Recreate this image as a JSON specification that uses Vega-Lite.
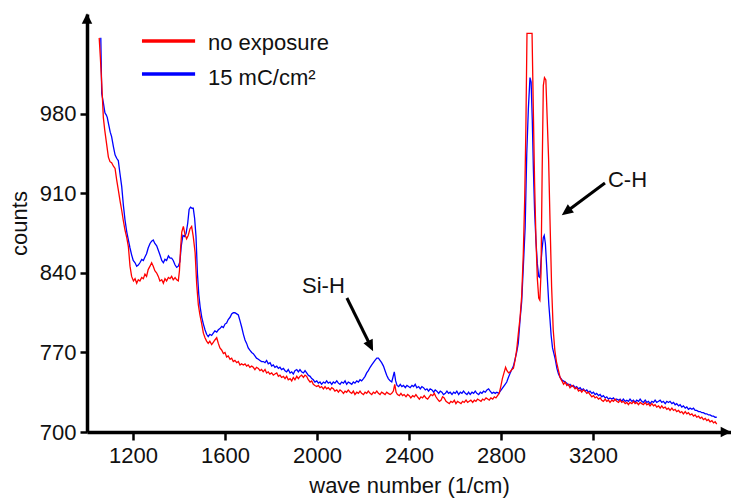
{
  "$schema": "https://vega.github.io/schema/vega-lite/v6.json",
  "autosize": {"type": "none"},
  "padding": {"left": 87, "top": 14, "right": 0, "bottom": 68},
  "width": 644,
  "height": 418,
  "config": {
    "view": {"stroke": null},
    "font": "Liberation Sans",
    "axis": {
      "grid": false,
      "domainColor": "#000000",
      "domainWidth": 3.5,
      "tickColor": "#000000",
      "tickWidth": 2.5,
      "labelFontSize": 22,
      "labelColor": "#111111",
      "labelFont": "Liberation Sans",
      "titleFont": "Liberation Sans",
      "titleFontSize": 22,
      "titleFontWeight": "normal",
      "titleColor": "#111111"
    }
  },
  "datasets": {
    "noexp": [
      {"w":1053,"c":1047},{"w":1058,"c":1030},{"w":1064,"c":1007},{"w":1071,"c":977},{"w":1077,"c":966},{"w":1083,"c":957},{"w":1093,"c":942},{"w":1100,"c":938},{"w":1107,"c":937},{"w":1115,"c":934},{"w":1122,"c":932},{"w":1129,"c":922},{"w":1137,"c":912},{"w":1144,"c":903},{"w":1151,"c":895},{"w":1158,"c":886},{"w":1165,"c":878},{"w":1173,"c":871},{"w":1180,"c":863},{"w":1187,"c":846},{"w":1194,"c":837},{"w":1202,"c":833},{"w":1209,"c":835},{"w":1216,"c":831},{"w":1223,"c":834},{"w":1230,"c":833},{"w":1238,"c":836},{"w":1245,"c":835},{"w":1252,"c":839},{"w":1259,"c":837},{"w":1266,"c":843},{"w":1274,"c":846},{"w":1281,"c":849},{"w":1288,"c":846},{"w":1295,"c":842},{"w":1303,"c":840},{"w":1310,"c":837},{"w":1317,"c":833},{"w":1325,"c":834},{"w":1332,"c":831},{"w":1339,"c":835},{"w":1346,"c":833},{"w":1354,"c":836},{"w":1361,"c":835},{"w":1368,"c":837},{"w":1375,"c":834},{"w":1383,"c":836},{"w":1390,"c":834},{"w":1397,"c":833},{"w":1402,"c":842},{"w":1407,"c":862},{"w":1412,"c":876},{"w":1419,"c":881},{"w":1426,"c":874},{"w":1433,"c":870},{"w":1440,"c":873},{"w":1448,"c":879},{"w":1455,"c":881},{"w":1462,"c":872},{"w":1470,"c":858},{"w":1477,"c":830},{"w":1484,"c":812},{"w":1491,"c":803},{"w":1499,"c":795},{"w":1506,"c":787},{"w":1513,"c":783},{"w":1520,"c":780},{"w":1527,"c":778},{"w":1534,"c":780},{"w":1542,"c":777},{"w":1549,"c":779},{"w":1556,"c":781},{"w":1564,"c":783},{"w":1571,"c":778},{"w":1578,"c":774},{"w":1586,"c":772},{"w":1593,"c":769},{"w":1600,"c":770},{"w":1607,"c":766},{"w":1614,"c":767},{"w":1622,"c":764},{"w":1629,"c":765},{"w":1636,"c":762},{"w":1643,"c":763},{"w":1651,"c":761},{"w":1658,"c":762},{"w":1665,"c":759},{"w":1672,"c":760},{"w":1680,"c":759},{"w":1687,"c":760},{"w":1694,"c":758},{"w":1701,"c":759},{"w":1708,"c":757},{"w":1716,"c":758},{"w":1723,"c":757},{"w":1730,"c":755},{"w":1737,"c":757},{"w":1745,"c":756},{"w":1752,"c":754},{"w":1759,"c":755},{"w":1766,"c":753},{"w":1774,"c":755},{"w":1781,"c":752},{"w":1788,"c":753},{"w":1795,"c":751},{"w":1803,"c":752},{"w":1810,"c":750},{"w":1817,"c":751},{"w":1825,"c":752},{"w":1832,"c":749},{"w":1839,"c":750},{"w":1846,"c":748},{"w":1854,"c":749},{"w":1861,"c":747},{"w":1868,"c":749},{"w":1875,"c":746},{"w":1883,"c":747},{"w":1890,"c":745},{"w":1897,"c":748},{"w":1904,"c":746},{"w":1912,"c":749},{"w":1919,"c":747},{"w":1926,"c":749},{"w":1933,"c":750},{"w":1941,"c":748},{"w":1948,"c":750},{"w":1955,"c":749},{"w":1962,"c":746},{"w":1970,"c":744},{"w":1977,"c":745},{"w":1984,"c":742},{"w":1991,"c":741},{"w":1999,"c":740},{"w":2006,"c":741},{"w":2013,"c":739},{"w":2020,"c":740},{"w":2028,"c":738},{"w":2035,"c":740},{"w":2042,"c":738},{"w":2049,"c":739},{"w":2057,"c":737},{"w":2064,"c":739},{"w":2071,"c":738},{"w":2078,"c":736},{"w":2086,"c":737},{"w":2093,"c":735},{"w":2100,"c":737},{"w":2107,"c":736},{"w":2115,"c":734},{"w":2122,"c":736},{"w":2129,"c":735},{"w":2136,"c":737},{"w":2144,"c":735},{"w":2151,"c":734},{"w":2158,"c":736},{"w":2165,"c":733},{"w":2173,"c":735},{"w":2180,"c":734},{"w":2187,"c":736},{"w":2194,"c":734},{"w":2202,"c":733},{"w":2209,"c":735},{"w":2216,"c":734},{"w":2223,"c":736},{"w":2231,"c":734},{"w":2238,"c":733},{"w":2245,"c":735},{"w":2252,"c":734},{"w":2260,"c":736},{"w":2267,"c":734},{"w":2274,"c":733},{"w":2281,"c":735},{"w":2289,"c":734},{"w":2296,"c":733},{"w":2303,"c":735},{"w":2310,"c":734},{"w":2318,"c":733},{"w":2325,"c":734},{"w":2332,"c":736},{"w":2338,"c":742},{"w":2344,"c":735},{"w":2350,"c":733},{"w":2358,"c":732},{"w":2365,"c":734},{"w":2372,"c":732},{"w":2379,"c":733},{"w":2387,"c":731},{"w":2394,"c":733},{"w":2401,"c":732},{"w":2408,"c":730},{"w":2416,"c":732},{"w":2423,"c":731},{"w":2430,"c":733},{"w":2437,"c":731},{"w":2445,"c":729},{"w":2452,"c":731},{"w":2459,"c":730},{"w":2466,"c":732},{"w":2474,"c":730},{"w":2481,"c":729},{"w":2488,"c":731},{"w":2495,"c":733},{"w":2503,"c":732},{"w":2510,"c":734},{"w":2517,"c":731},{"w":2524,"c":729},{"w":2532,"c":727},{"w":2539,"c":728},{"w":2546,"c":731},{"w":2553,"c":730},{"w":2561,"c":727},{"w":2568,"c":726},{"w":2575,"c":725},{"w":2582,"c":727},{"w":2590,"c":726},{"w":2597,"c":728},{"w":2604,"c":725},{"w":2611,"c":727},{"w":2619,"c":726},{"w":2626,"c":725},{"w":2633,"c":727},{"w":2640,"c":726},{"w":2648,"c":728},{"w":2655,"c":726},{"w":2662,"c":727},{"w":2669,"c":728},{"w":2677,"c":726},{"w":2684,"c":728},{"w":2691,"c":727},{"w":2698,"c":729},{"w":2706,"c":728},{"w":2713,"c":727},{"w":2720,"c":729},{"w":2727,"c":728},{"w":2735,"c":730},{"w":2742,"c":729},{"w":2749,"c":728},{"w":2756,"c":730},{"w":2764,"c":729},{"w":2771,"c":731},{"w":2778,"c":730},{"w":2785,"c":732},{"w":2792,"c":734},{"w":2799,"c":740},{"w":2806,"c":747},{"w":2813,"c":752},{"w":2820,"c":757},{"w":2826,"c":754},{"w":2833,"c":752},{"w":2840,"c":753},{"w":2847,"c":755},{"w":2854,"c":756},{"w":2861,"c":763},{"w":2868,"c":772},{"w":2875,"c":786},{"w":2883,"c":801},{"w":2890,"c":820},{"w":2897,"c":857},{"w":2903,"c":905},{"w":2908,"c":965},{"w":2913,"c":1051},{"w":2935,"c":1051},{"w":2940,"c":990},{"w":2946,"c":920},{"w":2952,"c":870},{"w":2958,"c":835},{"w":2964,"c":818},{"w":2969,"c":816},{"w":2974,"c":840},{"w":2979,"c":930},{"w":2984,"c":1005},{"w":2989,"c":1012},{"w":2995,"c":1010},{"w":3001,"c":975},{"w":3007,"c":940},{"w":3013,"c":887},{"w":3020,"c":828},{"w":3027,"c":790},{"w":3034,"c":772},{"w":3041,"c":762},{"w":3049,"c":755},{"w":3057,"c":748},{"w":3065,"c":745},{"w":3072,"c":742},{"w":3079,"c":744},{"w":3086,"c":741},{"w":3093,"c":742},{"w":3100,"c":739},{"w":3108,"c":741},{"w":3115,"c":740},{"w":3122,"c":738},{"w":3129,"c":739},{"w":3137,"c":736},{"w":3144,"c":737},{"w":3151,"c":735},{"w":3158,"c":737},{"w":3166,"c":736},{"w":3173,"c":734},{"w":3180,"c":735},{"w":3187,"c":733},{"w":3195,"c":731},{"w":3202,"c":732},{"w":3209,"c":730},{"w":3216,"c":731},{"w":3224,"c":729},{"w":3231,"c":730},{"w":3238,"c":728},{"w":3245,"c":727},{"w":3253,"c":729},{"w":3260,"c":727},{"w":3267,"c":728},{"w":3274,"c":726},{"w":3282,"c":728},{"w":3289,"c":727},{"w":3296,"c":729},{"w":3303,"c":727},{"w":3311,"c":726},{"w":3318,"c":728},{"w":3325,"c":726},{"w":3332,"c":727},{"w":3340,"c":725},{"w":3347,"c":726},{"w":3354,"c":724},{"w":3361,"c":726},{"w":3369,"c":725},{"w":3376,"c":727},{"w":3383,"c":725},{"w":3390,"c":726},{"w":3398,"c":724},{"w":3405,"c":726},{"w":3412,"c":725},{"w":3419,"c":724},{"w":3427,"c":726},{"w":3434,"c":724},{"w":3441,"c":725},{"w":3448,"c":723},{"w":3456,"c":725},{"w":3463,"c":723},{"w":3470,"c":724},{"w":3477,"c":722},{"w":3485,"c":723},{"w":3492,"c":721},{"w":3499,"c":723},{"w":3506,"c":721},{"w":3514,"c":722},{"w":3521,"c":720},{"w":3528,"c":721},{"w":3535,"c":719},{"w":3543,"c":721},{"w":3550,"c":719},{"w":3557,"c":720},{"w":3564,"c":718},{"w":3572,"c":719},{"w":3579,"c":717},{"w":3586,"c":718},{"w":3593,"c":716},{"w":3601,"c":718},{"w":3608,"c":716},{"w":3615,"c":717},{"w":3622,"c":715},{"w":3630,"c":716},{"w":3637,"c":714},{"w":3644,"c":715},{"w":3651,"c":713},{"w":3659,"c":714},{"w":3666,"c":712},{"w":3673,"c":713},{"w":3680,"c":711},{"w":3688,"c":712},{"w":3695,"c":710},{"w":3702,"c":711},{"w":3709,"c":709},{"w":3717,"c":710},{"w":3724,"c":708},{"w":3731,"c":709},{"w":3738,"c":707}
    ],
    "exp15": [
      {"w":1060,"c":1047},{"w":1064,"c":998},{"w":1071,"c":990},{"w":1078,"c":981},{"w":1084,"c":979},{"w":1088,"c":977},{"w":1095,"c":970},{"w":1101,"c":964},{"w":1107,"c":960},{"w":1115,"c":951},{"w":1122,"c":944},{"w":1129,"c":941},{"w":1136,"c":939},{"w":1143,"c":928},{"w":1151,"c":916},{"w":1158,"c":900},{"w":1165,"c":887},{"w":1173,"c":876},{"w":1180,"c":869},{"w":1187,"c":862},{"w":1194,"c":856},{"w":1201,"c":851},{"w":1209,"c":849},{"w":1216,"c":846},{"w":1223,"c":847},{"w":1230,"c":849},{"w":1238,"c":852},{"w":1245,"c":851},{"w":1252,"c":854},{"w":1259,"c":857},{"w":1266,"c":862},{"w":1274,"c":866},{"w":1281,"c":868},{"w":1288,"c":869},{"w":1295,"c":866},{"w":1303,"c":864},{"w":1310,"c":860},{"w":1317,"c":856},{"w":1325,"c":851},{"w":1332,"c":849},{"w":1339,"c":852},{"w":1346,"c":851},{"w":1354,"c":855},{"w":1361,"c":853},{"w":1368,"c":853},{"w":1375,"c":851},{"w":1383,"c":847},{"w":1390,"c":845},{"w":1397,"c":846},{"w":1404,"c":850},{"w":1410,"c":864},{"w":1417,"c":873},{"w":1424,"c":872},{"w":1431,"c":875},{"w":1438,"c":884},{"w":1444,"c":896},{"w":1450,"c":898},{"w":1457,"c":897},{"w":1462,"c":897},{"w":1468,"c":888},{"w":1474,"c":872},{"w":1480,"c":840},{"w":1486,"c":821},{"w":1492,"c":810},{"w":1499,"c":801},{"w":1506,"c":795},{"w":1513,"c":790},{"w":1520,"c":786},{"w":1527,"c":784},{"w":1534,"c":786},{"w":1542,"c":785},{"w":1549,"c":787},{"w":1556,"c":789},{"w":1564,"c":788},{"w":1571,"c":790},{"w":1578,"c":791},{"w":1586,"c":793},{"w":1593,"c":792},{"w":1600,"c":795},{"w":1607,"c":796},{"w":1614,"c":799},{"w":1622,"c":801},{"w":1629,"c":804},{"w":1636,"c":805},{"w":1643,"c":805},{"w":1651,"c":804},{"w":1658,"c":803},{"w":1665,"c":798},{"w":1673,"c":792},{"w":1680,"c":786},{"w":1687,"c":781},{"w":1694,"c":778},{"w":1701,"c":774},{"w":1708,"c":772},{"w":1716,"c":770},{"w":1723,"c":769},{"w":1730,"c":767},{"w":1737,"c":765},{"w":1745,"c":764},{"w":1752,"c":763},{"w":1759,"c":762},{"w":1767,"c":762},{"w":1774,"c":761},{"w":1781,"c":763},{"w":1788,"c":760},{"w":1796,"c":761},{"w":1803,"c":758},{"w":1810,"c":759},{"w":1817,"c":757},{"w":1825,"c":758},{"w":1832,"c":756},{"w":1839,"c":757},{"w":1846,"c":755},{"w":1854,"c":756},{"w":1861,"c":754},{"w":1868,"c":753},{"w":1875,"c":755},{"w":1883,"c":752},{"w":1890,"c":753},{"w":1897,"c":751},{"w":1904,"c":754},{"w":1912,"c":755},{"w":1919,"c":753},{"w":1926,"c":755},{"w":1933,"c":753},{"w":1941,"c":752},{"w":1948,"c":754},{"w":1955,"c":752},{"w":1962,"c":750},{"w":1970,"c":749},{"w":1977,"c":747},{"w":1984,"c":746},{"w":1991,"c":744},{"w":1999,"c":745},{"w":2006,"c":743},{"w":2013,"c":744},{"w":2020,"c":742},{"w":2028,"c":744},{"w":2035,"c":743},{"w":2042,"c":745},{"w":2049,"c":743},{"w":2057,"c":744},{"w":2064,"c":742},{"w":2071,"c":744},{"w":2078,"c":743},{"w":2086,"c":745},{"w":2093,"c":743},{"w":2100,"c":742},{"w":2107,"c":744},{"w":2115,"c":743},{"w":2122,"c":745},{"w":2129,"c":742},{"w":2136,"c":744},{"w":2144,"c":743},{"w":2151,"c":742},{"w":2158,"c":744},{"w":2165,"c":743},{"w":2173,"c":745},{"w":2180,"c":744},{"w":2187,"c":746},{"w":2194,"c":745},{"w":2202,"c":747},{"w":2209,"c":749},{"w":2216,"c":752},{"w":2223,"c":754},{"w":2231,"c":757},{"w":2238,"c":759},{"w":2245,"c":761},{"w":2252,"c":763},{"w":2260,"c":765},{"w":2267,"c":765},{"w":2274,"c":763},{"w":2281,"c":761},{"w":2289,"c":758},{"w":2296,"c":754},{"w":2303,"c":750},{"w":2310,"c":747},{"w":2318,"c":745},{"w":2325,"c":744},{"w":2330,"c":748},{"w":2336,"c":753},{"w":2342,"c":745},{"w":2348,"c":741},{"w":2355,"c":740},{"w":2362,"c":742},{"w":2369,"c":740},{"w":2376,"c":741},{"w":2384,"c":739},{"w":2391,"c":741},{"w":2398,"c":740},{"w":2405,"c":739},{"w":2413,"c":741},{"w":2420,"c":740},{"w":2427,"c":742},{"w":2434,"c":739},{"w":2442,"c":740},{"w":2449,"c":738},{"w":2456,"c":740},{"w":2463,"c":739},{"w":2471,"c":737},{"w":2478,"c":738},{"w":2485,"c":736},{"w":2492,"c":738},{"w":2500,"c":737},{"w":2507,"c":735},{"w":2514,"c":737},{"w":2521,"c":736},{"w":2529,"c":734},{"w":2536,"c":736},{"w":2543,"c":735},{"w":2550,"c":733},{"w":2558,"c":734},{"w":2565,"c":736},{"w":2572,"c":734},{"w":2579,"c":735},{"w":2587,"c":733},{"w":2594,"c":735},{"w":2601,"c":734},{"w":2608,"c":736},{"w":2616,"c":733},{"w":2623,"c":735},{"w":2630,"c":734},{"w":2637,"c":736},{"w":2645,"c":734},{"w":2652,"c":733},{"w":2659,"c":735},{"w":2666,"c":733},{"w":2674,"c":735},{"w":2681,"c":734},{"w":2688,"c":736},{"w":2695,"c":734},{"w":2703,"c":733},{"w":2710,"c":735},{"w":2717,"c":734},{"w":2724,"c":736},{"w":2732,"c":735},{"w":2739,"c":737},{"w":2746,"c":738},{"w":2753,"c":736},{"w":2761,"c":734},{"w":2768,"c":735},{"w":2775,"c":734},{"w":2782,"c":735},{"w":2790,"c":734},{"w":2797,"c":736},{"w":2804,"c":738},{"w":2811,"c":740},{"w":2818,"c":742},{"w":2825,"c":744},{"w":2832,"c":748},{"w":2840,"c":752},{"w":2847,"c":755},{"w":2854,"c":758},{"w":2861,"c":764},{"w":2868,"c":770},{"w":2875,"c":778},{"w":2883,"c":799},{"w":2890,"c":815},{"w":2897,"c":845},{"w":2905,"c":880},{"w":2912,"c":945},{"w":2919,"c":985},{"w":2926,"c":1012},{"w":2931,"c":1008},{"w":2936,"c":975},{"w":2941,"c":930},{"w":2946,"c":895},{"w":2952,"c":868},{"w":2958,"c":848},{"w":2964,"c":837},{"w":2969,"c":836},{"w":2974,"c":850},{"w":2979,"c":862},{"w":2984,"c":871},{"w":2988,"c":873},{"w":2993,"c":866},{"w":2998,"c":848},{"w":3003,"c":830},{"w":3008,"c":812},{"w":3013,"c":799},{"w":3018,"c":785},{"w":3024,"c":774},{"w":3030,"c":769},{"w":3036,"c":764},{"w":3043,"c":756},{"w":3050,"c":751},{"w":3057,"c":748},{"w":3064,"c":746},{"w":3071,"c":745},{"w":3079,"c":744},{"w":3086,"c":743},{"w":3093,"c":741},{"w":3100,"c":742},{"w":3108,"c":740},{"w":3115,"c":741},{"w":3122,"c":739},{"w":3129,"c":740},{"w":3137,"c":738},{"w":3144,"c":739},{"w":3151,"c":737},{"w":3158,"c":738},{"w":3166,"c":736},{"w":3173,"c":737},{"w":3180,"c":735},{"w":3187,"c":736},{"w":3195,"c":734},{"w":3202,"c":735},{"w":3209,"c":733},{"w":3216,"c":734},{"w":3224,"c":732},{"w":3231,"c":733},{"w":3238,"c":731},{"w":3245,"c":732},{"w":3253,"c":730},{"w":3260,"c":731},{"w":3267,"c":729},{"w":3274,"c":730},{"w":3282,"c":729},{"w":3289,"c":730},{"w":3296,"c":728},{"w":3303,"c":729},{"w":3311,"c":728},{"w":3318,"c":729},{"w":3325,"c":727},{"w":3332,"c":729},{"w":3340,"c":727},{"w":3347,"c":728},{"w":3354,"c":727},{"w":3361,"c":729},{"w":3369,"c":727},{"w":3376,"c":728},{"w":3383,"c":726},{"w":3390,"c":728},{"w":3398,"c":727},{"w":3405,"c":729},{"w":3412,"c":727},{"w":3419,"c":726},{"w":3427,"c":728},{"w":3434,"c":726},{"w":3441,"c":727},{"w":3448,"c":725},{"w":3456,"c":727},{"w":3463,"c":726},{"w":3470,"c":728},{"w":3477,"c":726},{"w":3485,"c":727},{"w":3492,"c":728},{"w":3499,"c":726},{"w":3506,"c":727},{"w":3514,"c":725},{"w":3521,"c":727},{"w":3528,"c":726},{"w":3535,"c":727},{"w":3543,"c":725},{"w":3550,"c":726},{"w":3557,"c":724},{"w":3564,"c":725},{"w":3572,"c":723},{"w":3579,"c":724},{"w":3586,"c":722},{"w":3593,"c":723},{"w":3601,"c":721},{"w":3608,"c":722},{"w":3615,"c":720},{"w":3622,"c":721},{"w":3630,"c":720},{"w":3637,"c":721},{"w":3644,"c":719},{"w":3651,"c":719},{"w":3659,"c":718},{"w":3666,"c":718},{"w":3673,"c":717},{"w":3680,"c":717},{"w":3688,"c":716},{"w":3695,"c":716},{"w":3702,"c":715},{"w":3709,"c":715},{"w":3717,"c":714},{"w":3724,"c":714},{"w":3731,"c":713},{"w":3738,"c":713}
    ],
    "legendRows": [
      {"series": "no exposure", "w": 1239, "w2": 1470, "c": 1044.2, "lw": 1526, "lc": 1036.3},
      {"series": "15 mC/cm²", "w": 1239, "w2": 1470, "c": 1015.1, "lw": 1526, "lc": 1005.5}
    ],
    "notes": [
      {"label": "Si-H", "w": 2028, "c": 822.4},
      {"label": "C-H", "w": 3350, "c": 915.7}
    ],
    "arrows": [
      {"w": 2130, "c": 818, "w2": 2233, "c2": 775.7},
      {"w": 3252, "c": 919.2, "w2": 3084, "c2": 893.9}
    ],
    "arrowHeads": [
      {"w": 2233, "c": 775.7, "dir": 153.9},
      {"w": 3084, "c": 893.9, "dir": 233.1}
    ],
    "axisHeads": [
      {"w": 1000, "c": 1064, "dir": 0},
      {"w": 3778, "c": 700, "dir": 90}
    ]
  },
  "encoding": {
    "x": {
      "field": "w", "type": "quantitative",
      "scale": {"domain": [1000, 3800], "nice": false, "zero": false},
      "axis": {"values": [1200, 1600, 2000, 2400, 2800, 3200], "format": "d", "title": "wave number (1/cm)", "tickSize": 8, "labelPadding": 5, "titlePadding": 9, "labelFlush": false}
    },
    "y": {
      "field": "c", "type": "quantitative",
      "scale": {"domain": [700, 1068], "nice": false, "zero": false},
      "axis": {"values": [700, 770, 840, 910, 980], "format": "d", "title": "counts", "tickSize": 7, "labelPadding": 4, "titlePadding": 8, "labelFlush": false}
    }
  },
  "layer": [
    {
      "data": {"name": "exp15"},
      "mark": {"type": "line", "strokeWidth": 1.3, "interpolate": "linear"},
      "encoding": {"color": {"datum": "15 mC/cm²", "type": "nominal", "scale": {"domain": ["no exposure", "15 mC/cm²"], "range": ["#ff0000", "#0000ff"]}, "legend": null}}
    },
    {
      "data": {"name": "noexp"},
      "mark": {"type": "line", "strokeWidth": 1.3, "interpolate": "linear"},
      "encoding": {"color": {"datum": "no exposure", "type": "nominal"}}
    },
    {
      "data": {"name": "legendRows"},
      "mark": {"type": "rule", "strokeWidth": 3.5},
      "encoding": {"x2": {"field": "w2"}, "color": {"field": "series", "type": "nominal"}}
    },
    {
      "data": {"name": "legendRows"},
      "mark": {"type": "text", "align": "left", "baseline": "alphabetic", "fontSize": 22, "font": "Liberation Sans", "color": "#111111"},
      "encoding": {"x": {"field": "lw", "type": "quantitative"}, "y": {"field": "lc", "type": "quantitative"}, "text": {"field": "series"}}
    },
    {
      "data": {"name": "notes"},
      "mark": {"type": "text", "align": "center", "baseline": "alphabetic", "fontSize": 22, "font": "Liberation Sans", "color": "#111111"},
      "encoding": {"text": {"field": "label"}}
    },
    {
      "data": {"name": "arrows"},
      "mark": {"type": "rule", "strokeWidth": 3, "color": "#000000"},
      "encoding": {"x2": {"field": "w2"}, "y2": {"field": "c2"}}
    },
    {
      "data": {"name": "arrowHeads"},
      "mark": {"type": "point", "shape": "M-0.9,1L0,-1L0.9,1Z", "filled": true, "color": "#000000", "size": 130, "opacity": 1},
      "encoding": {"angle": {"field": "dir", "type": "quantitative", "scale": null}}
    },
    {
      "data": {"name": "axisHeads"},
      "mark": {"type": "point", "shape": "M-1,1L0,-1L1,1Z", "filled": true, "color": "#000000", "size": 110, "opacity": 1},
      "encoding": {"angle": {"field": "dir", "type": "quantitative", "scale": null}}
    }
  ]
}
